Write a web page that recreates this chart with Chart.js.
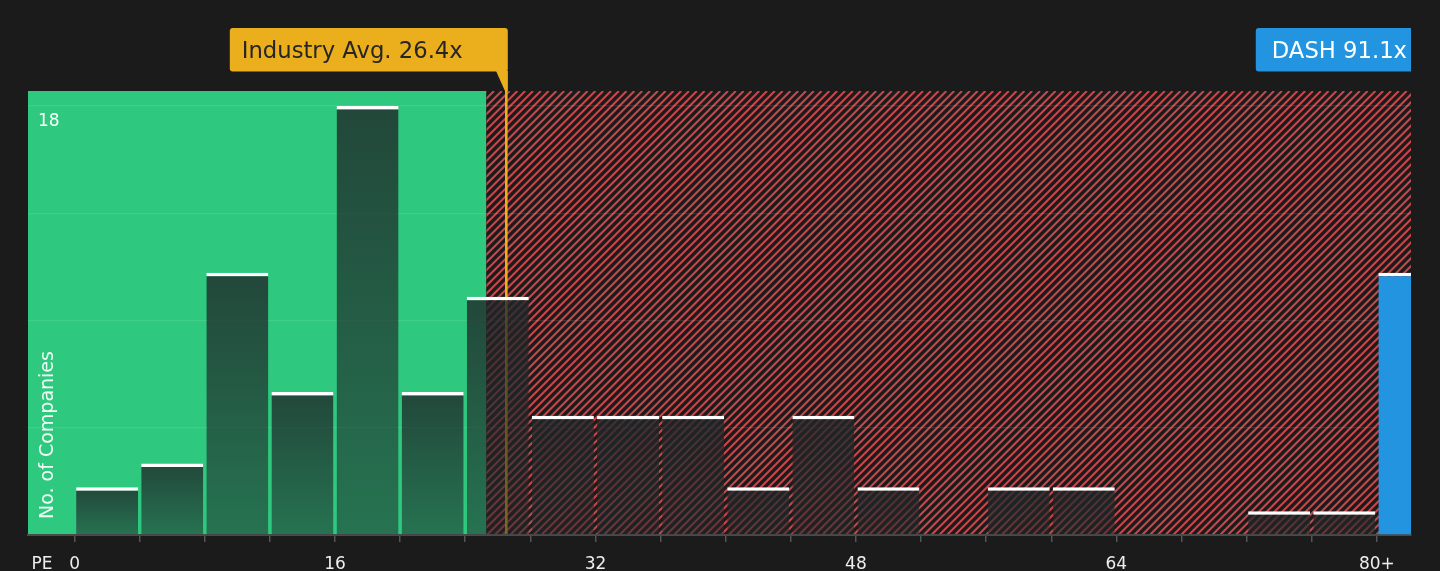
<!DOCTYPE html>
<html><head><meta charset="utf-8">
<script src="https://cdn.jsdelivr.net/npm/chart.js@4.4.1/dist/chart.umd.min.js"></script>
<style>html,body{margin:0;padding:0;background:#1b1b1b;overflow:hidden}#wrap{width:1440px;height:571px;position:relative}</style>
</head><body><div id="wrap"><canvas id="c"></canvas></div>
<script>
// ---- data ----
const binStarts = [0,4,8,12,16,20,24,28,32,36,40,44,48,52,56,60,64,68,72,76,80];
const binWidth = 4;
const companyCounts = [2,3,11,6,18,6,10,5,5,5,2,5,2,0,2,2,0,0,1,1,11];
const subjectBinIndex = 20;
const xTickValues = [0,4,8,12,16,20,24,28,32,36,40,44,48,52,56,60,64,68,72,76,80];
const xTickLabels = {"0":"0","16":"16","32":"32","48":"48","64":"64","80":"80+"};
const xAxisName = "PE";
const xAxisNameAt = -2;
const yTickValues = [0,4.5,9,13.5,18];
const yTickLabels = {"18":"18"};
const industryAvgPE = 26.4;
const industryLabel = "Industry Avg. 26.4x";
const companyLabel = "DASH 91.1x";
const fairValueUpTo = 25.3;
const xMin = -2.86, xMax = 82.1, yMax = 18.63;
const yTitle = "No. of Companies";

// ---- colours ----
const BG = '#1b1b1b', GREEN = '#2ec87e', HATCH = '#c8464a', GOLD = '#ebae1c', BLUE = '#2394e0';

Chart.defaults.font.family = "'DejaVu Sans', sans-serif";

const points = binStarts.map((s, i) => ({x: s + binWidth / 2, y: companyCounts[i]}));

function barFill(ctx) {
  if (ctx.type !== 'data') return 'rgba(31,39,41,0.7)';
  if (ctx.dataIndex === subjectBinIndex) return BLUE;
  const chart = ctx.chart, ys = chart.scales.y;
  if (!ys || !chart.chartArea) return 'rgba(31,39,41,0.7)';
  const top = ys.getPixelForValue(ctx.parsed ? ctx.parsed.y : ctx.raw.y);
  const bottom = ys.getPixelForValue(0);
  if (!(bottom - top > 1)) return 'rgba(31,39,41,0.7)';
  const g = chart.ctx.createLinearGradient(0, top, 0, bottom);
  g.addColorStop(0, 'rgba(31,39,41,0.80)');
  g.addColorStop(1, 'rgba(31,39,41,0.53)');
  return g;
}

const backdrop = {
  id: 'backdrop',
  beforeDraw(chart) {
    const {ctx, chartArea: a, scales: {x}} = chart;
    const xf = x.getPixelForValue(fairValueUpTo);
    ctx.save();
    ctx.fillStyle = GREEN;
    ctx.fillRect(a.left, a.top, xf - a.left, a.bottom - a.top);
    ctx.fillStyle = BG;
    ctx.fillRect(xf, a.top, a.right - xf, a.bottom - a.top);
    ctx.beginPath();
    ctx.rect(xf, a.top, a.right - xf, a.bottom - a.top);
    ctx.clip();
    const h = a.bottom - a.top;
    ctx.strokeStyle = HATCH;
    ctx.lineWidth = 2.1;
    ctx.beginPath();
    for (let k = xf - h - 8; k < a.right + 8; k += 7.8) {
      ctx.moveTo(k, a.bottom);
      ctx.lineTo(k + h, a.top);
    }
    ctx.stroke();
    ctx.restore();
    // industry average line
    const xi = x.getPixelForValue(industryAvgPE) + 2;
    ctx.save();
    ctx.strokeStyle = GOLD;
    ctx.lineWidth = 2.6;
    ctx.beginPath();
    ctx.moveTo(xi, 71);
    ctx.lineTo(xi, a.bottom);
    ctx.stroke();
    ctx.restore();
  },
  afterDraw(chart) {
    const {ctx, chartArea: a, scales: {x}} = chart;
    const xi = x.getPixelForValue(industryAvgPE) + 2;
    ctx.save();
    // x axis name
    ctx.font = "17px 'DejaVu Sans'";
    ctx.fillStyle = '#eeeeee';
    ctx.textAlign = 'center';
    ctx.textBaseline = 'middle';
    ctx.fillText(xAxisName, x.getPixelForValue(xAxisNameAt), a.bottom + 30);
    ctx.textAlign = 'left';
    ctx.font = "22.7px 'DejaVu Sans'";
    // industry box
    const bTop = 28, bBot = 71.5;
    const r1 = xi + 1.5, l1 = r1 - 278;
    ctx.fillStyle = GOLD;
    ctx.beginPath();
    ctx.roundRect(l1, bTop, r1 - l1, bBot - bTop, 3);
    ctx.fill();
    ctx.beginPath();
    ctx.moveTo(r1 - 12, bBot - 1);
    ctx.lineTo(r1, bBot - 1);
    ctx.lineTo(xi + 1.3, a.top);
    ctx.lineTo(xi - 1.3, a.top);
    ctx.closePath();
    ctx.fill();
    ctx.fillStyle = '#262626';
    ctx.fillText(industryLabel, l1 + 12, (bTop + bBot) / 2 + 2);
    // company box
    const tw = ctx.measureText(companyLabel).width;
    const l2 = a.right - (tw + 20);
    ctx.fillStyle = BLUE;
    ctx.beginPath();
    ctx.roundRect(l2, bTop, a.right - l2, bBot - bTop, [3, 0, 0, 3]);
    ctx.fill();
    ctx.fillStyle = '#ffffff';
    ctx.fillText(companyLabel, l2 + 16, (bTop + bBot) / 2 + 2);
    // y title
    ctx.translate(48, a.bottom - 16);
    ctx.rotate(-Math.PI / 2);
    ctx.font = "19px 'DejaVu Sans'";
    ctx.fillStyle = 'rgba(255,255,255,0.92)';
    ctx.fillText(yTitle, 0, 0);
    ctx.restore();
  }
};

new Chart(document.getElementById('c'), {
  type: 'bar',
  data: {
    datasets: [{
      data: points,
      backgroundColor: barFill,
      borderColor: '#ffffff',
      borderWidth: {top: 3.5, left: 0, right: 0, bottom: 0},
      borderSkipped: false,
      barPercentage: 1,
      categoryPercentage: 0.952
    }]
  },
  options: {
    responsive: true,
    maintainAspectRatio: false,
    animation: false,
    devicePixelRatio: 1,
    layout: {padding: {left: 28, right: 29, top: 91, bottom: 0}},
    plugins: {legend: {display: false}, tooltip: {enabled: false}},
    scales: {
      x: {
        type: 'linear',
        min: xMin, max: xMax,
        offset: false,
        afterBuildTicks: s => { s.ticks = xTickValues.map(v => ({value: v})); },
        afterFit: s => { s.height = 36; },
        ticks: {
          autoSkip: false, maxRotation: 0, color: '#eeeeee',
          font: {size: 17}, padding: 12,
          callback: v => (xTickLabels[String(v)] ?? '')
        },
        grid: {
          offset: false, drawOnChartArea: false, tickLength: 7, lineWidth: 1.5,
          tickColor: '#555555'
        },
        border: {display: true, color: '#4a4a4a', width: 2}
      },
      y: {
        min: 0, max: yMax,
        afterBuildTicks: s => { s.ticks = yTickValues.map(v => ({value: v})); },
        afterFit: s => { s.width = 0; },
        ticks: {
          mirror: true, padding: 10, labelOffset: 16, color: '#ffffff',
          font: {size: 17},
          callback: v => (yTickLabels[String(v)] ?? '')
        },
        grid: {
          drawTicks: false, lineWidth: 1.2,
          color: c => (c.tick && c.tick.value === 0 ? 'rgba(0,0,0,0)' : 'rgba(255,255,255,0.10)')
        },
        border: {display: false}
      }
    }
  },
  plugins: [backdrop]
});
</script></body></html>
